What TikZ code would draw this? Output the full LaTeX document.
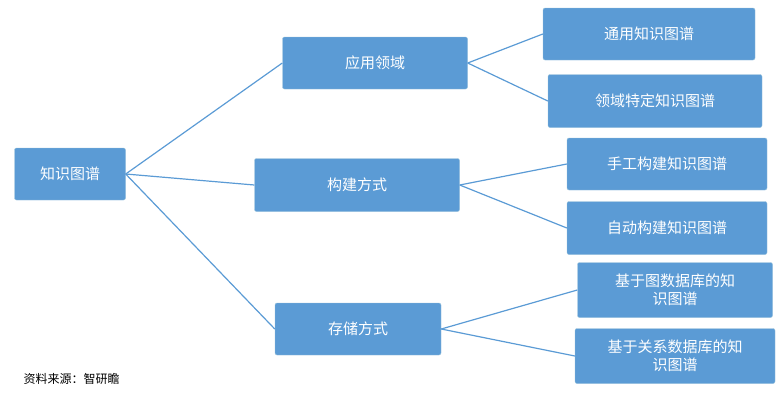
\documentclass[tikz,border=0pt]{standalone}
\usepackage{fontspec}
\setmainfont{Noto Sans CJK SC}
\begin{document}
\begin{tikzpicture}[x=1pt,y=-1pt,
  bx/.style={draw=blue!40!black!60!cyan!40!white,fill={rgb,255:red,91;green,155;blue,213},text=white,rounded corners=2pt,inner sep=0pt,font=\fontsize{15}{18}\selectfont,align=center},
  ln/.style={draw={rgb,255:red,91;green,155;blue,213},line width=1.2pt}]
\useasboundingbox (0,0) rectangle (782,400);
\node[bx,minimum width=111,minimum height=52] (r) at (70,174) {知识图谱};
\node[bx,minimum width=185,minimum height=52] (a) at (375,63) {应用领域};
\node[bx,minimum width=205,minimum height=53] (b) at (357,185) {构建方式};
\node[bx,minimum width=166,minimum height=52] (c) at (358,329) {存储方式};
\node[bx,minimum width=212,minimum height=52] (a1) at (649,34) {通用知识图谱};
\node[bx,minimum width=214,minimum height=53] (a2) at (655,101) {领域特定知识图谱};
\node[bx,minimum width=200,minimum height=52] (b1) at (667,164) {手工构建知识图谱};
\node[bx,minimum width=200,minimum height=53] (b2) at (667,228) {自动构建知识图谱};
\node[bx,minimum width=195,minimum height=55,text width=185] (c1) at (675,290) {基于图数据库的知\\识图谱};
\node[bx,minimum width=200,minimum height=55,text width=190] (c2) at (675,356) {基于关系数据库的知\\识图谱};
\node[font=\fontsize{12}{14}\selectfont,anchor=west] (src) at (20,379) {资料来源：智研瞻};
\foreach \m in {a,b,c} \draw[ln] (r.east) -- (\m.west);
\draw[ln] (a.east) -- (a1.west); \draw[ln] (a.east) -- (a2.west);
\draw[ln] (b.east) -- (b1.west); \draw[ln] (b.east) -- (b2.west);
\draw[ln] (c.east) -- (c1.west); \draw[ln] (c.east) -- (c2.west);
\end{tikzpicture}
\end{document}
